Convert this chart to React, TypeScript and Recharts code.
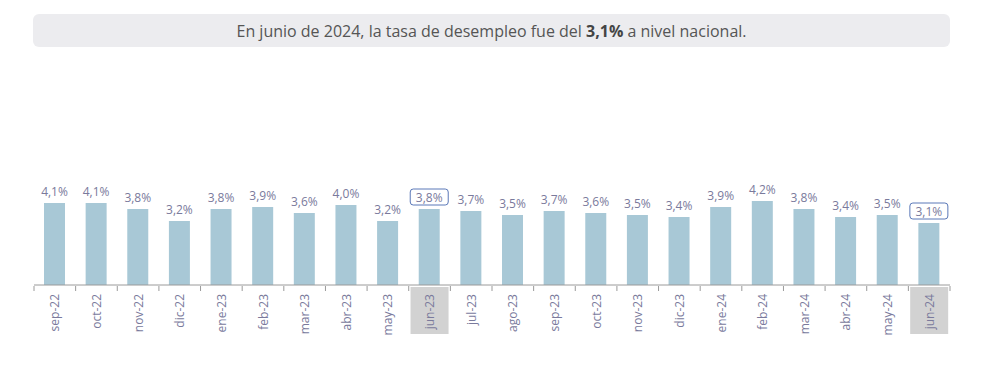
import { BarChart, Bar, XAxis, YAxis, LabelList } from 'recharts';

const months = [
  'sep-22', 'oct-22', 'nov-22', 'dic-22', 'ene-23', 'feb-23', 'mar-23', 'abr-23', 'may-23', 'jun-23', 'jul-23',
  'ago-23', 'sep-23', 'oct-23', 'nov-23', 'dic-23', 'ene-24', 'feb-24', 'mar-24', 'abr-24', 'may-24', 'jun-24',
];
const rates = [4.1, 4.1, 3.8, 3.2, 3.8, 3.9, 3.6, 4.0, 3.2, 3.8, 3.7, 3.5, 3.7, 3.6, 3.5, 3.4, 3.9, 4.2, 3.8, 3.4, 3.5, 3.1];
const highlighted = ['jun-23', 'jun-24'];

const data = months.map((m, i) => ({ month: m, rate: rates[i] }));

const W = 1000;
const H = 365;
const LEFT = 34;
const RIGHT = 50;
const STEP = (W - LEFT - RIGHT) / months.length;
const TEXT = '#7a7a9c';
const FONT = "'Open Sans', 'DejaVu Sans', sans-serif";

const fmt = (v: number) => v.toFixed(1).replace('.', ',') + '%';

function MonthTick({ x, y, payload }: any) {
  const hl = highlighted.includes(payload.value);
  return (
    <g>
      {hl && <rect x={x - 19} y={y - 6} width={38} height={47} fill="#d2d2d2" />}
      <line x1={x + STEP / 2} y1={y - 7} x2={x + STEP / 2} y2={y - 2} stroke="#9a9a9a" />
      {payload.index === 0 && <line x1={x - STEP / 2} y1={y - 7} x2={x - STEP / 2} y2={y - 2} stroke="#9a9a9a" />}
      <text
        x={x}
        y={y + 1}
        transform={`rotate(-90 ${x} ${y + 1})`}
        textAnchor="end"
        dominantBaseline="central"
        fill={TEXT}
        fontSize={12}
        fontFamily={FONT}
      >
        {payload.value}
      </text>
    </g>
  );
}

function ValueLabel({ x, y, width, value, index }: any) {
  const cx = x + width / 2;
  const cy = y - 12;
  const hl = highlighted.includes(months[index]);
  return (
    <g>
      {hl && <rect x={cx - 19} y={cy - 8} width={38} height={16} rx={3} fill="none" stroke="#5a78b8" strokeWidth={1} />}
      <text x={cx} y={cy} textAnchor="middle" dominantBaseline="central" fill={TEXT} fontSize={12} fontFamily={FONT}>
        {fmt(value)}
      </text>
    </g>
  );
}

export default function App() {
  return (
    <div style={{ position: 'relative', width: W, height: H, background: '#fff', fontFamily: FONT }}>
      <style>{'body{margin:0}'}</style>
      <div
        style={{
          position: 'absolute',
          left: 33,
          top: 14,
          width: 917,
          height: 33,
          background: '#ececef',
          borderRadius: 6,
          display: 'flex',
          alignItems: 'center',
          justifyContent: 'center',
          fontSize: 16,
          color: '#555',
        }}
      >
        <span>
          En junio de 2024, la tasa de desempleo fue del <b style={{ color: '#444' }}>3,1%</b> a nivel nacional.
        </span>
      </div>
      <div style={{ position: 'absolute', left: 0, top: 0 }}>
        <BarChart width={W} height={H} data={data} margin={{ top: 185, right: RIGHT, left: LEFT, bottom: 0 }}>
          <YAxis hide domain={[0, 5]} />
          <XAxis
            dataKey="month"
            interval={0}
            height={80}
            axisLine={{ stroke: '#9a9a9a' }}
            tickLine={false}
            tick={<MonthTick />}
          />
          <Bar dataKey="rate" fill="#a8c8d6" barSize={21} isAnimationActive={false}>
            <LabelList dataKey="rate" content={<ValueLabel />} />
          </Bar>
        </BarChart>
      </div>
    </div>
  );
}
